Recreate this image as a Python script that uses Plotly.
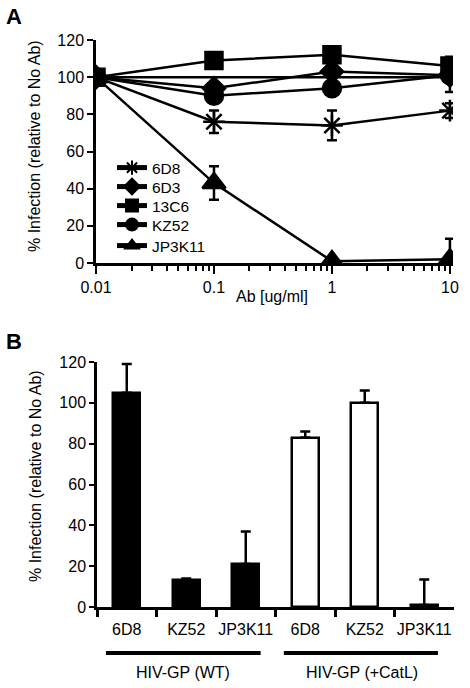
import plotly.graph_objects as go

W, H = 470, 688

# ---------- Panel A data ----------
conc = [0.01, 0.1, 1, 10]
x_ticks_a = [0.01, 0.1, 1, 10]
x_ticktext_a = ["0.01", "0.1", "1", "10"]
minor_a = [2e-2, 3e-2, 4e-2, 5e-2, 6e-2, 7e-2, 8e-2, 9e-2,
           0.2, 0.3, 0.4, 0.5, 0.6, 0.7, 0.8, 0.9,
           2, 3, 4, 5, 6, 7, 8, 9]
y_ticks = [0, 20, 40, 60, 80, 100, 120]

ab_names = ["6D8", "6D3", "13C6", "KZ52", "JP3K11"]
ab_symbols = ["asterisk-open", "diamond", "square", "circle", "triangle-up"]
v_6D8 = [100, 76, 74, 82]
e_6D8 = [0, 6, 8, 4]
v_6D3 = [100, 94, 103, 101]
e_6D3 = [0, 0, 0, 0]
v_13C6 = [100, 109, 112, 106]
e_13C6 = [0, 0, 0, 5]
v_KZ52 = [100, 90, 94, 101]
e_KZ52 = [0, 0, 0, 9]
v_JP3K11 = [100, 43, 1, 2]
e_JP3K11 = [0, 9, 0, 11]
v_noab = [100, 100, 100, 100]

series_vals = [v_6D8, v_6D3, v_13C6, v_KZ52, v_JP3K11]
series_errs = [e_6D8, e_6D3, e_13C6, e_KZ52, e_JP3K11]
marker_sizes = [18, 17, 17, 18, 20]

# ---------- Panel B data ----------
b_labels = ["6D8", "KZ52", "JP3K11", "6D8", "KZ52", "JP3K11"]
b_wt = [105, 13, 21]
b_wt_err = [14, 1, 16]
b_catl = [83, 100, 1]
b_catl_err = [3, 6, 12.5]
groups = ["HIV-GP (WT)", "HIV-GP (+CatL)"]

FONT = "Liberation Sans, Arial, sans-serif"
FS = 16
LW = 2.5

fig = go.Figure()

fig.add_trace(go.Scatter(x=conc, y=v_noab, mode="lines",
                         line=dict(color="black", width=LW),
                         showlegend=False, xaxis="x", yaxis="y"))

legend_ids = ["legend", "legend2", "legend3", "legend4", "legend5"]
for name, sym, vals, errs, ms, lg in zip(ab_names, ab_symbols, series_vals,
                                         series_errs, marker_sizes, legend_ids):
    fig.add_trace(go.Scatter(
        x=conc, y=vals, name=name, mode="lines+markers", legend=lg,
        line=dict(color="black", width=LW),
        marker=dict(symbol=sym, size=ms, color="black",
                    line=dict(color="black", width=2.5)),
        error_y=dict(type="data", array=errs, color="black", thickness=2.5, width=5),
        xaxis="x", yaxis="y"))

fig.add_trace(go.Bar(x=[0, 1, 2], y=b_wt, width=0.46,
                     marker=dict(color="black", line=dict(color="black", width=LW)),
                     error_y=dict(type="data", symmetric=False, array=b_wt_err,
                                  arrayminus=[0, 0, 0], color="black", thickness=2.5, width=5),
                     showlegend=False, xaxis="x2", yaxis="y2"))
fig.add_trace(go.Bar(x=[3, 4, 5], y=b_catl, width=0.46,
                     marker=dict(color="white", line=dict(color="black", width=LW)),
                     error_y=dict(type="data", symmetric=False, array=b_catl_err,
                                  arrayminus=[0, 0, 0], color="black", thickness=2.5, width=5),
                     showlegend=False, xaxis="x2", yaxis="y2"))

axis_common = dict(showline=True, linecolor="black", linewidth=LW, showgrid=False,
                   zeroline=False, tickfont=dict(family=FONT, size=FS, color="black"),
                   ticks="outside", tickcolor="black", tickwidth=2, automargin=False)

legend_layout = {}
for lg, ytop in zip(legend_ids, [151, 170, 189, 208, 229]):
    legend_layout[lg] = dict(x=112 / W, y=1 - ytop / H, xanchor="left", yanchor="top",
                             bgcolor="rgba(0,0,0,0)", itemsizing="constant",
                             font=dict(family=FONT, size=15.5, color="black"))

fig.update_layout(
    width=W, height=H, margin=dict(l=0, r=0, t=0, b=0, pad=0, autoexpand=False),
    paper_bgcolor="white", plot_bgcolor="white",
    font=dict(family=FONT, size=FS, color="black"),
    bargap=0,
    xaxis=dict(type="log", domain=[96 / W, 453 / W], range=[-2, 1.026],
               tickmode="array", tickvals=x_ticks_a, ticktext=x_ticktext_a,
               ticklen=8, anchor="y",
               minor=dict(tickmode="array", tickvals=minor_a, ticks="outside",
                          ticklen=5, tickcolor="black", tickwidth=2),
               **axis_common),
    yaxis=dict(domain=[1 - 263 / H, 1 - 40 / H], range=[0, 120],
               tickmode="array", tickvals=y_ticks, ticklen=6, anchor="x",
               **axis_common),
    xaxis2=dict(domain=[97 / W, 454 / W], range=[-0.5, 5.5],
                tickmode="array", tickvals=[0, 1, 2, 3, 4, 5], ticktext=b_labels,
                ticklen=6, anchor="y2",
                minor=dict(tickmode="array", tickvals=[-0.5, 0.5, 1.5, 2.5, 3.5, 4.5],
                           ticks="outside", ticklen=7, tickcolor="black", tickwidth=2.5),
                **{**axis_common, "tickcolor": "rgba(0,0,0,0)"}),
    yaxis2=dict(domain=[1 - 607 / H, 1 - 362 / H], range=[0, 120],
                tickmode="array", tickvals=y_ticks, ticklen=5, anchor="x2",
                **axis_common),
    showlegend=True,
    **legend_layout,
)

ann = []
ann.append(dict(text="<b>A</b>", x=14 / W, y=1 - 16 / H, xref="paper", yref="paper",
                showarrow=False, font=dict(family=FONT, size=22), xanchor="center", yanchor="middle"))
ann.append(dict(text="<b>B</b>", x=14 / W, y=1 - 341 / H, xref="paper", yref="paper",
                showarrow=False, font=dict(family=FONT, size=22), xanchor="center", yanchor="middle"))
ann.append(dict(text="% Infection (relative to No Ab)", x=35 / W, y=1 - 146 / H,
                xref="paper", yref="paper", textangle=-90, showarrow=False,
                font=dict(family=FONT, size=FS), xanchor="center", yanchor="middle"))
ann.append(dict(text="% Infection (relative to No Ab)", x=35 / W, y=1 - 476 / H,
                xref="paper", yref="paper", textangle=-90, showarrow=False,
                font=dict(family=FONT, size=FS), xanchor="center", yanchor="middle"))
ann.append(dict(text="Ab [ug/ml]", x=272 / W, y=1 - 296 / H, xref="paper", yref="paper",
                showarrow=False, font=dict(family=FONT, size=FS), xanchor="center", yanchor="middle"))
for gname, xc in zip(groups, [1, 4]):
    ann.append(dict(text=gname, x=xc - 0.05, y=1 - 672 / H, xref="x2", yref="paper",
                    showarrow=False, font=dict(family=FONT, size=FS), xanchor="center", yanchor="middle"))
fig.update_layout(annotations=ann)

shapes = []
for x0, x1 in [(-0.35, 2.25), (2.64, 5.23)]:
    shapes.append(dict(type="line", xref="x2", yref="paper", x0=x0, x1=x1,
                       y0=1 - 653 / H, y1=1 - 653 / H, line=dict(color="black", width=4)))
fig.update_layout(shapes=shapes)

fig.write_html("out.html", config={"displayModeBar": False},
               post_script="document.body.style.margin='0';document.body.style.overflow='hidden';")
